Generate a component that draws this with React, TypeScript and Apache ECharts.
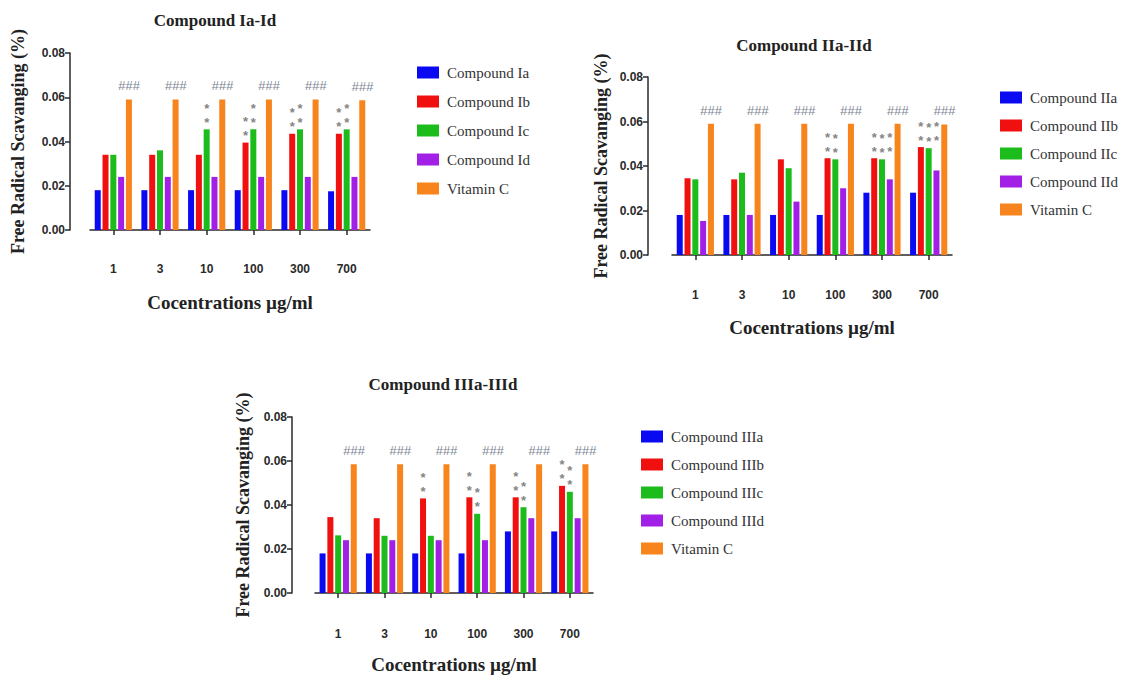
import React, { useEffect, useRef } from "react";
import * as echarts from "echarts";

// ---------- data ----------
const concentrations = ["1", "3", "10", "100", "300", "700"];
const yMin = 0;
const yMax = 0.08;
const yInterval = 0.02;

// Chart 1: Compound Ia-Id
const compoundIa = [0.018, 0.018, 0.018, 0.018, 0.018, 0.0175];
const compoundIb = [0.034, 0.034, 0.034, 0.0395, 0.0435, 0.0435];
const compoundIc = [0.034, 0.036, 0.0455, 0.0455, 0.0455, 0.0455];
const compoundId = [0.024, 0.024, 0.024, 0.024, 0.024, 0.024];
const vitaminC1 = [0.059, 0.059, 0.059, 0.059, 0.059, 0.0587];
const starsIb = [0, 0, 0, 2, 2, 2];
const starsIc = [0, 0, 2, 2, 2, 2];

// Chart 2: Compound IIa-IId
const compoundIIa = [0.018, 0.018, 0.018, 0.018, 0.028, 0.028];
const compoundIIb = [0.0345, 0.034, 0.043, 0.0435, 0.0435, 0.0485];
const compoundIIc = [0.034, 0.037, 0.039, 0.043, 0.043, 0.048];
const compoundIId = [0.0153, 0.018, 0.024, 0.03, 0.034, 0.038];
const vitaminC2 = [0.059, 0.059, 0.059, 0.059, 0.059, 0.0587];
const starsIIb = [0, 0, 0, 2, 2, 2];
const starsIIc = [0, 0, 0, 2, 2, 2];
const starsIId = [0, 0, 0, 0, 2, 2];
const starLevelIId = [0, 0, 0, 0, 0.0435, 0.0485]; // asterisks drawn at the level of IIb

// Chart 3: Compound IIIa-IIId
const compoundIIIa = [0.018, 0.018, 0.018, 0.018, 0.028, 0.028];
const compoundIIIb = [0.0345, 0.034, 0.043, 0.0435, 0.0435, 0.0487];
const compoundIIIc = [0.0262, 0.026, 0.026, 0.036, 0.039, 0.046];
const compoundIIId = [0.024, 0.024, 0.024, 0.024, 0.034, 0.034];
const vitaminC3 = [0.0585, 0.0585, 0.0585, 0.0585, 0.0585, 0.0585];
const starsIIIb = [0, 0, 2, 2, 2, 2];
const starsIIIc = [0, 0, 0, 2, 2, 2];

// ---------- styles ----------
const COLORS = ["#0a0af2", "#f01010", "#1cbc1c", "#a21fe6", "#f7841c"];
const SERIF = "'Liberation Serif', 'Times New Roman', serif";
const SANS = "'Liberation Sans', Arial, sans-serif";

const grids = [
  { left: 90, top: 53, width: 280, height: 177, yOffset: 20, xOffset: 20, yNameGap: 43, xNameGap: 43 },
  { left: 672, top: 77, width: 280, height: 178, yOffset: 24, xOffset: 21, yNameGap: 38, xNameGap: 42 },
  { left: 315, top: 417, width: 278, height: 176, yOffset: 23, xOffset: 22, yNameGap: 40, xNameGap: 40 },
];

function starText(n: number) {
  return new Array(n).fill("*").join("\n");
}

function makeBar(
  name: string,
  values: number[],
  color: string,
  gi: number,
  stars?: number[],
  starLevel?: number[]
) {
  const g = grids[gi];
  const data = values.map((v, i) => {
    const n = stars ? stars[i] : 0;
    if (!n) return { value: v };
    let lift = 0;
    if (starLevel && starLevel[i]) lift = ((starLevel[i] - v) / (yMax - yMin)) * g.height;
    return {
      value: v,
      label: {
        show: true,
        position: "top",
        distance: 0,
        offset: [0, -lift],
        formatter: starText(n),
        color: "#858585",
        fontFamily: SANS,
        fontWeight: "bold",
        fontSize: 13,
        lineHeight: 14,
      },
    };
  });
  return {
    type: "bar",
    name,
    xAxisIndex: gi,
    yAxisIndex: gi,
    data,
    barWidth: 6,
    barGap: "30%",
    itemStyle: { color },
    label: { show: false },
  };
}

function vitaminBar(values: number[], gi: number) {
  const s: any = makeBar("Vitamin C", values, COLORS[4], gi);
  s.label = {
    show: true,
    position: "top",
    distance: 7,
    formatter: "###",
    color: "#7d8594",
    fontStyle: "italic",
    fontFamily: SANS,
    fontSize: 13,
  };
  return s;
}

const chartTitles = [
  { text: "Compound Ia-Id", x: 215, y: 20 },
  { text: "Compound IIa-IId", x: 804, y: 45 },
  { text: "Compound IIIa-IIId", x: 443, y: 384 },
];

const legends = [
  { left: 412, top: 60, gap: 14, names: ["Compound Ia", "Compound Ib", "Compound Ic", "Compound Id", "Vitamin C"] },
  { left: 995, top: 85, gap: 13, names: ["Compound IIa", "Compound IIb", "Compound IIc", "Compound IId", "Vitamin C"] },
  { left: 636, top: 424, gap: 13, names: ["Compound IIIa", "Compound IIIb", "Compound IIIc", "Compound IIId", "Vitamin C"] },
];

export default function App() {
  const ref = useRef<HTMLDivElement>(null);

  useEffect(() => {
    if (!ref.current) return;
    const chart = echarts.init(ref.current, undefined, { renderer: "svg" });

    const series = [
      makeBar("Compound Ia", compoundIa, COLORS[0], 0),
      makeBar("Compound Ib", compoundIb, COLORS[1], 0, starsIb),
      makeBar("Compound Ic", compoundIc, COLORS[2], 0, starsIc),
      makeBar("Compound Id", compoundId, COLORS[3], 0),
      vitaminBar(vitaminC1, 0),
      makeBar("Compound IIa", compoundIIa, COLORS[0], 1),
      makeBar("Compound IIb", compoundIIb, COLORS[1], 1, starsIIb),
      makeBar("Compound IIc", compoundIIc, COLORS[2], 1, starsIIc),
      makeBar("Compound IId", compoundIId, COLORS[3], 1, starsIId, starLevelIId),
      vitaminBar(vitaminC2, 1),
      makeBar("Compound IIIa", compoundIIIa, COLORS[0], 2),
      makeBar("Compound IIIb", compoundIIIb, COLORS[1], 2, starsIIIb),
      makeBar("Compound IIIc", compoundIIIc, COLORS[2], 2, starsIIIc),
      makeBar("Compound IIId", compoundIIId, COLORS[3], 2),
      vitaminBar(vitaminC3, 2),
    ];

    const axisLineStyle = { color: "#2a2a2a", width: 1.5 };

    chart.setOption({
      animation: false,
      backgroundColor: "#ffffff",
      grid: grids.map((g) => ({ left: g.left, top: g.top, width: g.width, height: g.height })),
      xAxis: grids.map((g, i) => ({
        type: "category",
        gridIndex: i,
        data: concentrations,
        offset: g.xOffset,
        axisLine: { show: true, lineStyle: axisLineStyle },
        axisTick: { show: true, alignWithLabel: true, length: 5, lineStyle: axisLineStyle },
        axisLabel: { color: "#2a2a2a", fontFamily: SANS, fontWeight: "bold", fontSize: 12, margin: 13 },
        name: "Cocentrations µg/ml",
        nameLocation: "middle",
        nameGap: g.xNameGap,
        nameTextStyle: { color: "#222", fontFamily: SERIF, fontWeight: "bold", fontSize: 19 },
        splitLine: { show: false },
      })),
      yAxis: grids.map((g, i) => ({
        type: "value",
        gridIndex: i,
        min: yMin,
        max: yMax,
        interval: yInterval,
        offset: g.yOffset,
        axisLine: { show: true, lineStyle: axisLineStyle },
        axisTick: { show: true, length: 5, lineStyle: axisLineStyle },
        axisLabel: {
          color: "#2a2a2a",
          fontFamily: SANS,
          fontWeight: "bold",
          fontSize: 12,
          margin: 5,
          formatter: (v: number) => v.toFixed(2),
        },
        splitLine: { show: false },
        name: "Free Radical Scavanging (%)",
        nameLocation: "middle",
        nameGap: g.yNameGap,
        nameTextStyle: { color: "#222", fontFamily: SERIF, fontWeight: "bold", fontSize: 18 },
      })),
      legend: legends.map((l) => ({
        orient: "vertical",
        left: l.left,
        top: l.top,
        itemWidth: 22,
        itemHeight: 12,
        itemGap: l.gap,
        icon: "rect",
        selectedMode: false,
        data: l.names,
        textStyle: { color: "#333", fontFamily: SERIF, fontSize: 15, padding: [0, 0, 0, 3] },
      })),
      graphic: chartTitles.map((t) => ({
        type: "text",
        x: t.x,
        y: t.y,
        style: {
          text: t.text,
          align: "center",
          verticalAlign: "middle",
          textAlign: "center",
          textVerticalAlign: "middle",
          fill: "#222",
          font: `bold 17px ${SERIF}`,
        },
      })),
      series,
    });

    return () => chart.dispose();
  }, []);

  return (
    <div
      ref={ref}
      style={{ position: "fixed", left: 0, top: 0, width: 1139, height: 675, background: "#fff" }}
    />
  );
}
